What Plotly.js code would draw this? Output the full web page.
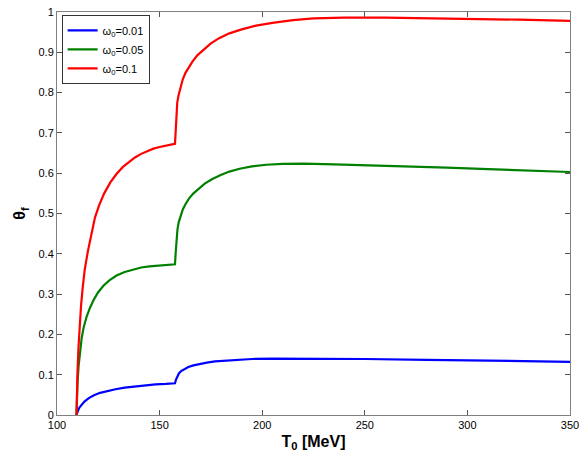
<!DOCTYPE html>
<html>
<head>
<meta charset="utf-8">
<script src="https://cdn.plot.ly/plotly-3.0.1.min.js"></script>
<style>html,body{margin:0;padding:0;background:#fff;}#chart{width:581px;height:454px;}</style>
</head>
<body>
<div id="chart"></div>
<script>
var seriesNames = ["ω<sub>0</sub>=0.01", "ω<sub>0</sub>=0.05", "ω<sub>0</sub>=0.1"];

var blueX = [109.5, 109.8, 110.3, 111, 112, 113.5, 115.5, 118, 121, 124.5, 128.5, 133, 138, 143, 148, 153, 157.5,
             158, 158.6, 159.4, 160.5, 162, 164, 166.5, 169.5, 173, 177, 182, 188, 195, 205, 220, 250, 280, 310, 350];
var blueY = [0, 0.006, 0.012, 0.019, 0.026, 0.034, 0.042, 0.049, 0.055, 0.060, 0.064, 0.068, 0.071, 0.074, 0.076, 0.077, 0.0786,
             0.088, 0.096, 0.103, 0.109, 0.114, 0.119, 0.123, 0.127, 0.130, 0.133, 0.135, 0.137, 0.139, 0.140, 0.140, 0.139, 0.137, 0.135, 0.132];

var greenX = [109.5, 109.7, 110, 110.5, 111.2, 112, 113, 114.5, 116, 118, 120, 122.5, 125.5, 129, 133, 137, 141, 145, 150, 154, 157.5,
              157.8, 158.2, 158.7, 159.3, 160.2, 161.3, 162.6, 164.3, 166.5, 169, 172, 175.5, 179.5, 184, 189, 195, 202, 210, 220, 235, 250, 270, 290, 310, 330, 350];
var greenY = [0, 0.04, 0.08, 0.12, 0.16, 0.19, 0.218, 0.245, 0.265, 0.287, 0.304, 0.32, 0.334, 0.346, 0.355, 0.361, 0.366, 0.369, 0.371, 0.373, 0.374,
              0.40, 0.435, 0.46, 0.478, 0.495, 0.51, 0.523, 0.537, 0.55, 0.562, 0.574, 0.585, 0.595, 0.604, 0.611, 0.617, 0.621, 0.623, 0.624, 0.622, 0.620, 0.617, 0.614, 0.610, 0.607, 0.603];

var redX = [109.5, 109.7, 110, 110.5, 111, 111.7, 112.5, 113.5, 115, 116.5, 118.5, 120.5, 123, 126, 129, 132, 135, 138, 141, 144, 147, 150, 153, 155.5, 157.5,
            157.8, 158.1, 158.6, 159.3, 160.2, 161.3, 162.6, 164, 166, 168.5, 171.5, 175, 179, 184, 190, 197, 205, 215, 225, 240, 260, 280, 300, 325, 350];
var redY = [0, 0.06, 0.11, 0.17, 0.22, 0.27, 0.315, 0.36, 0.405, 0.445, 0.49, 0.52, 0.55, 0.577, 0.598, 0.615, 0.628, 0.639, 0.648, 0.655, 0.661, 0.665, 0.669, 0.671, 0.673,
            0.71, 0.75, 0.775, 0.795, 0.815, 0.833, 0.849, 0.862, 0.877, 0.893, 0.907, 0.922, 0.935, 0.947, 0.957, 0.966, 0.973, 0.980, 0.984, 0.986, 0.986, 0.985, 0.983, 0.981, 0.978];

var xTicks = [100, 150, 200, 250, 300, 350];
var yTicks = [0, 0.1, 0.2, 0.3, 0.4, 0.5, 0.6, 0.7, 0.8, 0.9, 1];
var yTickText = ["0", "0.1", "0.2", "0.3", "0.4", "0.5", "0.6", "0.7", "0.8", "0.9", "1"];

var colors = ["#0000ff", "#008000", "#ff0000"];
var xs = [blueX, greenX, redX];
var ys = [blueY, greenY, redY];

var data = xs.map(function (x, i) {
  return {
    x: x, y: ys[i], type: "scatter", mode: "lines",
    name: seriesNames[i],
    line: {color: colors[i], width: 2.2}
  };
});

var axisCommon = {
  showline: true, mirror: "ticks", linecolor: "#808080", linewidth: 1,
  ticks: "inside", ticklen: 5, tickcolor: "#555", tickwidth: 1,
  showgrid: false, zeroline: false,
  tickfont: {family: "Liberation Sans, Arial, sans-serif", size: 11, color: "#000"}
};

var layout = {
  width: 581, height: 454,
  margin: {l: 57, r: 11, t: 12, b: 39},
  paper_bgcolor: "#fff", plot_bgcolor: "#fff",
  showlegend: true,
  legend: {
    x: 0.009, y: 0.993, xanchor: "left", yanchor: "top",
    bgcolor: "#fff", bordercolor: "#333", borderwidth: 1,
    font: {family: "Liberation Sans, Arial, sans-serif", size: 11, color: "#000"},
    tracegroupgap: 0, itemwidth: 30
  },
  xaxis: Object.assign({}, axisCommon, {
    range: [100, 350], tickvals: xTicks, ticktext: xTicks.map(String),
    title: {text: "<b>T<sub>0</sub> [MeV]</b>", font: {family: "Liberation Sans, Arial, sans-serif", size: 16, color: "#000"}, standoff: 5}
  }),
  yaxis: Object.assign({}, axisCommon, {
    range: [0, 1], tickvals: yTicks, ticktext: yTickText,
    title: {text: "<b>θ<sub>f</sub></b>", font: {family: "Liberation Sans, Arial, sans-serif", size: 16, color: "#000"}, standoff: 8}
  })
};

Plotly.newPlot("chart", data, layout, {displayModeBar: false, staticPlot: true});
</script>
</body>
</html>
